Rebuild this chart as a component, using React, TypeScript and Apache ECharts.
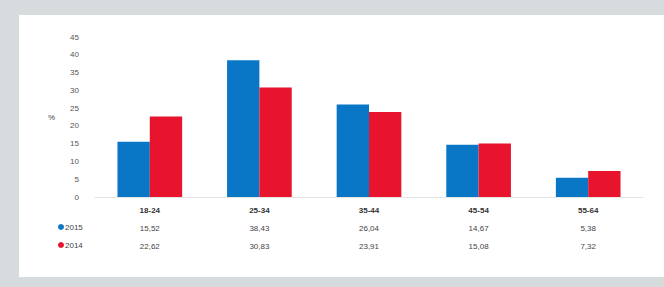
import React, { useEffect, useRef } from "react";
import * as echarts from "echarts";

const categories = ["18-24", "25-34", "35-44", "45-54", "55-64"];
const series2015 = [15.52, 38.43, 26.04, 14.67, 5.38];
const series2014 = [22.62, 30.83, 23.91, 15.08, 7.32];
const seriesNames = ["2015", "2014"];
const yTicks = { min: 0, max: 45, interval: 5 };

const BLUE = "#0a77c6";
const RED = "#e8132d";
const fmt = (v: number) => v.toFixed(2).replace(".", ",");

export default function App() {
  const ref = useRef<HTMLDivElement>(null);
  useEffect(() => {
    if (!ref.current) return;
    const chart = echarts.init(ref.current, null, { renderer: "svg" });
    const font = "Liberation Sans";
    chart.setOption({
      animation: false,
      backgroundColor: "transparent",
      textStyle: { fontFamily: font },
      grid: { left: 95, right: 21, top: 37, bottom: 90 },
      xAxis: {
        type: "category",
        data: categories,
        axisLine: { show: true, lineStyle: { color: "#e4e4e4" } },
        axisTick: { show: false },
        axisLabel: {
          interval: 0,
          margin: 4,
          formatter: (v: string, i: number) =>
            `{c|${v}}\n{v|${fmt(series2015[i])}}\n{v|${fmt(series2014[i])}}`,
          rich: {
            c: { fontSize: 8, color: "#333", fontWeight: "bold", lineHeight: 18, fontFamily: font },
            v: { fontSize: 8, color: "#444", lineHeight: 18, fontFamily: font },
          },
        },
      },
      yAxis: {
        type: "value",
        min: yTicks.min,
        max: yTicks.max,
        interval: yTicks.interval,
        axisLine: { show: false },
        axisTick: { show: false },
        splitLine: { show: false },
        axisLabel: { fontSize: 8, color: "#555", margin: 16, fontFamily: font },
        name: "%",
        nameLocation: "middle",
        nameRotate: 0,
        nameGap: 40,
        nameTextStyle: { fontSize: 8, color: "#444", fontFamily: font, padding: [14, 0, 0, 0] },
      },
      series: [
        {
          name: seriesNames[0],
          type: "bar",
          data: series2015,
          itemStyle: { color: BLUE },
          barGap: "0%",
          barCategoryGap: "41%",
        },
        {
          name: seriesNames[1],
          type: "bar",
          data: series2014,
          itemStyle: { color: RED },
          barGap: "0%",
          barCategoryGap: "41%",
        },
      ],
      graphic: [
        { type: "circle", shape: { cx: 61, cy: 227, r: 3 }, style: { fill: BLUE } },
        { type: "text", x: 65, y: 227, style: { text: seriesNames[0], fontSize: 8, fill: "#444", fontFamily: font, verticalAlign: "middle" } },
        { type: "circle", shape: { cx: 61, cy: 245, r: 3 }, style: { fill: RED } },
        { type: "text", x: 65, y: 245, style: { text: seriesNames[1], fontSize: 8, fill: "#444", fontFamily: font, verticalAlign: "middle" } },
      ],
    });
    return () => chart.dispose();
  }, []);
  return (
    <div style={{ position: "absolute", left: 0, top: 0, width: 664, height: 287, background: "#d6dbde", overflow: "hidden" }}>
      <div style={{ position: "absolute", left: 19, top: 15, width: 645, height: 262, background: "#ffffff" }} />
      <div ref={ref} style={{ position: "absolute", left: 0, top: 0, width: 664, height: 287 }} />
    </div>
  );
}
